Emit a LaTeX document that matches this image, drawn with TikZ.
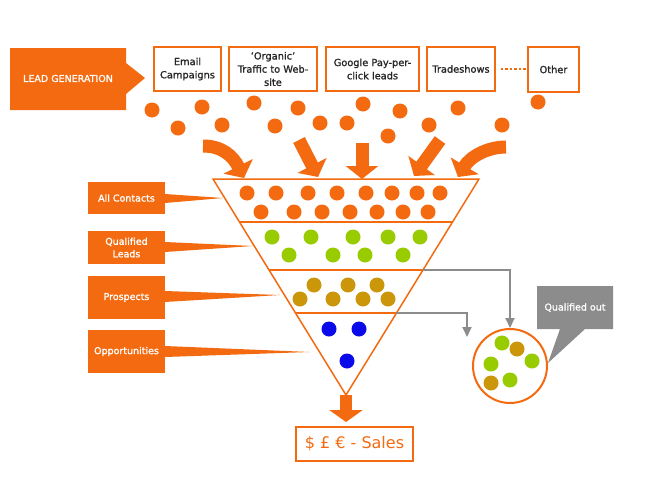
\documentclass[tikz,border=0pt]{standalone}
\usepackage{fontspec}
\setmainfont{DejaVu Sans}[BoldFont={DejaVu Sans}, BoldFeatures={FakeBold=1.3}]
\usetikzlibrary{arrows.meta,calc}
\definecolor{org}{RGB}{243,106,16}
\definecolor{grn}{RGB}{153,204,0}
\definecolor{brn}{RGB}{204,150,10}
\definecolor{blu}{RGB}{10,10,235}
\definecolor{gry}{RGB}{140,140,140}
\newcommand\srcfont{\fontsize{9.8}{13.2}\bfseries\selectfont}
\newcommand\lblfont{\fontsize{9.5}{12.5}\bfseries\selectfont}
\tikzset{
  srcbox/.style={draw=org, line width=1.5pt, fill=white, align=center, font=\srcfont, inner sep=0pt, text=black!85, minimum height=44pt},
  lblbox/.style={fill=org, text=white, align=center, font=\lblfont, inner sep=0pt, minimum width=77pt},
  bigarrow/.style={org, line width=13pt, -{Triangle[width=32pt,length=13pt]}},
  gconn/.style={gry, line width=1.8pt, -{Triangle[width=9pt,length=10pt]}},
  fline/.style={org, line width=1.5pt}
}
\begin{document}
\begin{tikzpicture}[x=1pt,y=-1pt]
\useasboundingbox (0,0) rectangle (653,493);
\fill[white] (0,0) rectangle (653,493);

% lead generation callout
\fill[org] (10,48) -- (126,48) -- (126,63) -- (145,78) -- (126,94) -- (126,110) -- (10,110) -- cycle;
\node[text=white, font=\lblfont] (lg) at (68,78.5) {LEAD GENERATION};

% sources
\node[srcbox, minimum width=67pt] (email) at (187.5,69) {Email\\Campaigns};
\node[srcbox, minimum width=88pt] (organic) at (273,69) {`Organic'\\Traffic to Web-\\site};
\node[srcbox, minimum width=93pt] (google) at (372.5,69) {Google Pay-per-\\click leads};
\node[srcbox, minimum width=68pt] (trade) at (461,69) {Tradeshows};
\node[srcbox, minimum width=51pt, minimum height=45pt] (other) at (553.5,69.5) {Other};
\draw[org, line width=1.5pt, dash pattern=on 2.5pt off 2pt, shorten <=5pt, shorten >=1pt] (trade.east) -- (other.west |- trade.east);

% falling dots
\foreach \x/\y in {152/110,178/128,202/107,222/125,254/103,275/126,298/108,320/123,347/123,363/104,388/136,400/111,429/125,458/108,502/125,538/102}
  \fill[org] (\x,\y) circle (7.5);

% big arrows
\draw[bigarrow] (203,146) .. controls (222,146) and (233,156) .. (244,178);
\draw[bigarrow] (299,140) -- (318,177);
\draw[bigarrow] (362,143) -- (362,179);
\draw[bigarrow] (440,140) -- (414,176);
\draw[bigarrow] (506,147) .. controls (487,147) and (470,157) .. (458,177);

% funnel
\coordinate (tl) at (213,179);
\coordinate (tr) at (479,179);
\coordinate (apex) at (346,395);
\draw[fline, line join=miter] (tl) -- (tr) -- (apex) -- cycle;
\draw[fline] ($(tl)!0.199!(apex)$) -- ($(tr)!0.199!(apex)$);
\draw[fline] ($(tl)!0.4213!(apex)$) coordinate (s2l) -- ($(tr)!0.4213!(apex)$) coordinate (s2r);
\draw[fline] ($(tl)!0.6204!(apex)$) coordinate (s3l) -- ($(tr)!0.6204!(apex)$) coordinate (s3r);

% funnel dots
\foreach \x in {247,276,308,337,366,392,417,440} \fill[org] (\x,193) circle (7.5);
\foreach \x in {261,294,322,350,377,403,428} \fill[org] (\x,212) circle (7.5);
\foreach \x in {272,311,353,388,420} \fill[grn] (\x,237) circle (7.5);
\foreach \x in {289,333,365,403} \fill[grn] (\x,255) circle (7.5);
\foreach \x in {314,348,377} \fill[brn] (\x,285) circle (7.5);
\foreach \x in {300,333,363,388} \fill[brn] (\x,299) circle (7.5);
\fill[blu] (329,329) circle (7.5);
\fill[blu] (359,329) circle (7.5);
\fill[blu] (347,361) circle (7.5);

% stage labels
\node[lblbox, minimum height=32pt] (ac) at (126.5,198) {All Contacts};
\fill[org] (165,194) -- (223,198) -- (165,203) -- cycle;
\node[lblbox, minimum height=33pt] (ql) at (126.5,247.5) {Qualified\\Leads};
\fill[org] (165,242) -- (253,246) -- (165,252) -- cycle;
\node[lblbox, minimum height=43pt] (pr) at (126.5,297.5) {Prospects};
\fill[org] (165,291) -- (280,295) -- (165,302) -- cycle;
\node[lblbox, minimum height=43pt] (op) at (126.5,351.5) {Opportunities};
\fill[org] (165,346) -- (310,352) -- (165,357) -- cycle;

% qualified out circle
\node[circle, draw=org, line width=2pt, fill=white, minimum size=74pt, inner sep=0pt] (qo) at (510,366) {};
\fill[grn] (502,343) circle (7.5);
\fill[brn] (517,349) circle (7.5);
\fill[grn] (532,361) circle (7.5);
\fill[grn] (491,364) circle (7.5);
\fill[brn] (491,383) circle (7.5);
\fill[grn] (510,380) circle (7.5);

% gray connectors
\coordinate (g2) at (467,337);
\draw[gconn] (s2r) -| (qo.north);
\draw[gconn] (s3r) -| (g2);

% qualified out callout
\fill[gry] (537,286) -- (613,286) -- (613,329) -- (585,329) -- (548,363) -- (560,329) -- (537,329) -- cycle;
\node[text=white, font=\lblfont] (qot) at (575,307.5) {Qualified out};

% sales
\node[draw=org, line width=1.8pt, fill=white, minimum width=117pt, minimum height=34pt, inner sep=0pt, text=org, font=\fontsize{16}{18}\selectfont] (sales) at (354.5,444) {\$ £ € - Sales};
\coordinate (salestop) at (346,422);
\draw[org, line width=12pt, -{Triangle[width=33pt,length=12pt]}] (apex) -- (salestop);
\end{tikzpicture}
\end{document}
